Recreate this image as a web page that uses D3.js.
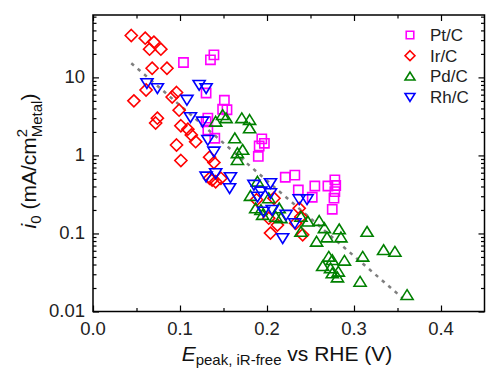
<!DOCTYPE html>
<html><head><meta charset="utf-8">
<script src="https://cdn.jsdelivr.net/npm/d3@7/dist/d3.min.js"></script>
<style>
html,body{margin:0;padding:0;background:#fff;}
svg{display:block;font-family:"Liberation Sans",Arial,sans-serif;}
</style></head>
<body><svg id="c" width="486" height="370"></svg>
<script>
// ---- data ----
const xTickValues = [0, 0.1, 0.2, 0.3, 0.4];
const xTickLabels = ["0.0", "0.1", "0.2", "0.3", "0.4"];
const yTickValues = [0.01, 0.1, 1, 10];
const yTickLabels = ["0.01", "0.1", "1", "10"];

const seriesNames = ["Pt/C", "Ir/C", "Pd/C", "Rh/C"];

const ptX = [0.104,0.139,0.135,0.130,0.151,0.149,0.154,0.132,0.130,0.140,0.194,0.191,0.197,0.190,0.132,0.221,0.232,0.236,0.255,0.252,0.270,0.278,0.279,0.278,0.277,0.275];
const ptY = [15.5,19.4,16.8,6.3,5.1,3.9,3.85,3.0,2.7,1.66,1.63,1.32,1.43,0.97,2.12,0.525,0.56,0.361,0.406,0.291,0.406,0.485,0.412,0.344,0.283,0.204];

const irX = [0.044,0.060,0.070,0.065,0.078,0.068,0.085,0.047,0.061,0.096,0.091,0.099,0.074,0.072,0.101,0.109,0.113,0.118,0.096,0.101,0.134,0.139,0.137,0.141,0.147,0.134,0.208,0.202,0.212,0.204,0.237,0.239,0.233,0.241,0.188];
const irY = [34.4,31.8,28.3,23.0,23.0,13.1,13.1,5.0,6.9,6.4,5.6,3.8,3.0,2.6,2.4,2.17,1.83,1.50,1.36,0.86,0.95,0.81,0.485,0.46,0.51,0.51,0.283,0.157,0.128,0.101,0.210,0.164,0.135,0.096,0.27];

const pdX = [0.149,0.153,0.141,0.171,0.180,0.180,0.163,0.172,0.166,0.166,0.189,0.181,0.202,0.187,0.193,0.195,0.214,0.210,0.216,0.239,0.247,0.239,0.260,0.266,0.283,0.285,0.269,0.257,0.315,0.334,0.347,0.310,0.271,0.275,0.289,0.264,0.273,0.275,0.282,0.281,0.307,0.361];
const pdY = [3.30,3.0,2.71,3.0,2.85,2.23,1.66,1.18,1.07,0.875,0.461,0.303,0.283,0.210,0.200,0.173,0.210,0.164,0.157,0.164,0.142,0.105,0.145,0.117,0.113,0.089,0.089,0.0785,0.105,0.0614,0.0584,0.0504,0.0504,0.0457,0.0448,0.0383,0.0358,0.0309,0.0324,0.0274,0.0241,0.0163];

const rhX = [0.062,0.074,0.122,0.130,0.108,0.112,0.126,0.132,0.139,0.130,0.141,0.158,0.157,0.185,0.193,0.189,0.204,0.204,0.206,0.222,0.232,0.237,0.246,0.218,0.196];
const rhY = [8.43,7.27,8.0,7.27,5.15,3.09,2.71,1.58,1.12,0.535,0.591,0.525,0.380,0.419,0.344,0.296,0.440,0.328,0.200,0.173,0.135,0.274,0.274,0.087,0.190];

const fitX = [0.044, 0.356];
const fitY = [15.2, 0.0148];

// ---- layout ----
const svg = d3.select("#c");
const L = 93, R = 484.5, T = 15, B = 311.5;
const x = d3.scaleLinear().domain([0, 0.45]).range([L, R]);
const y = d3.scaleLog().domain([0.01, 63]).range([B, T]);

const colors = {"Pt/C":"#ff00ff","Ir/C":"#ff0000","Pd/C":"#008000","Rh/C":"#0000ff"};
function shapePath(name, s) {
  if (name === "Pt/C") { const h = s*0.42; return `M${-h},${-h}H${h}V${h}H${-h}Z`; }
  if (name === "Ir/C") { const h = s*0.55; return `M0,${-h}L${h},0L0,${h}L${-h},0Z`; }
  if (name === "Pd/C") { const w = s*0.55, h = s*0.48; return `M0,${-h}L${w},${h*0.85}L${-w},${h*0.85}Z`; }
  const w = s*0.55, h = s*0.48; return `M0,${h}L${w},${-h*0.85}L${-w},${-h*0.85}Z`;
}

// frame
svg.append("rect").attr("x", L).attr("y", T).attr("width", R-L).attr("height", B-T)
  .attr("fill", "none").attr("stroke", "#000").attr("stroke-width", 1.5);

// axes (inward ticks, mirrored)
const xMinor = d3.range(0.05, 0.45, 0.1);
svg.append("g").attr("transform", `translate(0,${B})`)
  .call(d3.axisTop(x).tickValues(xTickValues).tickSize(6).tickFormat(""));
svg.append("g").attr("transform", `translate(0,${B})`)
  .call(d3.axisTop(x).tickValues(xMinor).tickSize(3.5).tickFormat(""));
svg.append("g").attr("transform", `translate(0,${T})`)
  .call(d3.axisBottom(x).tickValues(xTickValues).tickSize(6).tickFormat(""));
svg.append("g").attr("transform", `translate(0,${T})`)
  .call(d3.axisBottom(x).tickValues(xMinor).tickSize(3.5).tickFormat(""));

const yMinor = [];
[0.01, 0.1, 1, 10].forEach(d => { for (let k = 2; k <= 9; k++) { const v = d*k; if (v <= 63) yMinor.push(v); } });
svg.append("g").attr("transform", `translate(${L},0)`)
  .call(d3.axisRight(y).tickValues(yTickValues).tickSize(6).tickFormat(""));
svg.append("g").attr("transform", `translate(${L},0)`)
  .call(d3.axisRight(y).tickValues(yMinor).tickSize(3.5).tickFormat(""));
svg.append("g").attr("transform", `translate(${R},0)`)
  .call(d3.axisLeft(y).tickValues(yTickValues).tickSize(6).tickFormat(""));
svg.append("g").attr("transform", `translate(${R},0)`)
  .call(d3.axisLeft(y).tickValues(yMinor).tickSize(3.5).tickFormat(""));
svg.selectAll(".domain").remove();
svg.selectAll(".tick line").attr("stroke", "#000").attr("stroke-width", 1.2);

// tick labels
svg.append("g").selectAll("text").data(xTickValues).join("text")
  .attr("x", d => x(d)).attr("y", 335).attr("text-anchor", "middle")
  .attr("font-size", 18.5).attr("fill", "#222").text((d,i) => xTickLabels[i]);
svg.append("g").selectAll("text").data(yTickValues).join("text")
  .attr("x", 85).attr("y", d => y(d) + 5.5).attr("text-anchor", "end")
  .attr("font-size", 18.5).attr("fill", "#222").text((d,i) => yTickLabels[i]);

// trend line
svg.append("path")
  .attr("d", d3.line().x(d => x(d[0])).y(d => y(d[1]))(fitX.map((v,i) => [v, fitY[i]])))
  .attr("fill", "none").attr("stroke", "#7f7f7f").attr("stroke-width", 2.5).attr("stroke-dasharray", "3.5,5");

// points
const allSeries = [
  {name:"Pt/C", xs:ptX, ys:ptY},
  {name:"Ir/C", xs:irX, ys:irY},
  {name:"Pd/C", xs:pdX, ys:pdY},
  {name:"Rh/C", xs:rhX, ys:rhY}
];
allSeries.forEach(s => {
  svg.append("g").selectAll("path").data(s.xs.map((v,i) => [v, s.ys[i]])).join("path")
    .attr("transform", d => `translate(${x(d[0])},${y(d[1])})`)
    .attr("d", shapePath(s.name, 11))
    .attr("fill", "none").attr("stroke", colors[s.name]).attr("stroke-width", 1.6);
});

// legend
const lg = svg.append("g");
seriesNames.forEach((n, i) => {
  const cy = 35 + i*20.7;
  lg.append("path").attr("transform", `translate(410,${cy})`).attr("d", shapePath(n, 9))
    .attr("fill", "none").attr("stroke", colors[n]).attr("stroke-width", 1.6);
  lg.append("text").attr("x", 430).attr("y", cy + 6).attr("font-size", 17).attr("fill", "#222").text(n);
});

// axis titles
const xt = svg.append("text").attr("x", 287).attr("y", 361).attr("text-anchor", "middle").attr("font-size", 21).attr("fill", "#111");
xt.append("tspan").attr("font-style", "italic").text("E");
xt.append("tspan").attr("font-size", 15).attr("dy", 4).text("peak, iR-free");
xt.append("tspan").attr("dy", -4).text(" vs RHE (V)");

const yt = svg.append("text").attr("transform", "translate(36,161) rotate(-90)").attr("text-anchor", "middle").attr("font-size", 21).attr("fill", "#111");
yt.append("tspan").attr("font-style", "italic").text("i");
yt.append("tspan").attr("font-size", 15).attr("dy", 5).text("0");
yt.append("tspan").attr("dy", -5).text(" (mA/cm");
yt.append("tspan").attr("font-size", 15).attr("dy", -9).text("2");
yt.append("tspan").attr("font-size", 15).attr("dx", -8.3).attr("dy", 15).text("Metal");
yt.append("tspan").attr("dy", -6).text(")");
</script></body></html>
